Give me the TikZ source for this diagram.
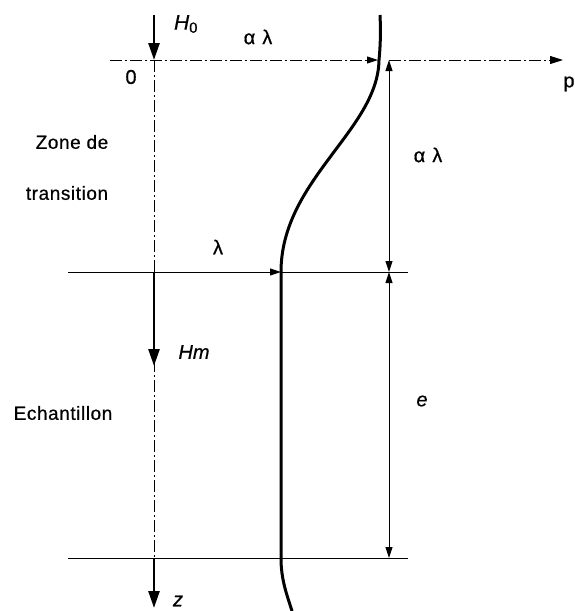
\documentclass[tikz,border=0pt]{standalone}
\usepackage{fontspec}
\setmainfont{Liberation Sans}
\usetikzlibrary{arrows.meta}
\begin{document}
\begin{tikzpicture}[x=1pt,y=-1pt,
  axisline/.style={line width=0.9pt, dash pattern=on 12pt off 3pt on 2pt off 3pt},
  thinline/.style={line width=1pt},
  dimtip/.style={-{Triangle[length=11pt,width=7pt]}},
  dimboth/.style={{Triangle[length=11pt,width=7pt]}-{Triangle[length=11pt,width=7pt]}},
  bigarrow/.style={line width=2.6pt, -{Triangle[length=17pt,width=11pt]}},
  curveline/.style={line width=3pt},
  lbl/.style={font=\fontsize{19}{21}\selectfont\addfontfeature{LetterSpace=3,FakeBold=0.6}, inner sep=0pt},
  sym/.style={font=\fontsize{20}{22}\selectfont\addfontfeature{FakeBold=0.6}, inner sep=0pt}
]
\useasboundingbox (0,0) rectangle (575,611);
% coordinates
\coordinate (H0top) at (154,15);
\coordinate (O) at (154,60);
\coordinate (pstart) at (110,60);
\coordinate (ptipA) at (378,60);
\coordinate (corner) at (389,60);
\coordinate (pend) at (563,60);
\coordinate (L1l) at (68,272);
\coordinate (L1r) at (408,272);
\coordinate (Z1) at (154,272);
\coordinate (Hmtip) at (154,366);
\coordinate (C1) at (281,272);
\coordinate (D1) at (389,272);
\coordinate (L2l) at (68,558);
\coordinate (L2r) at (408,558);
\coordinate (Z2) at (154,558);
\coordinate (ztip) at (154,608);
\coordinate (D2) at (389,558);
% axes
\draw[axisline, dimtip] (pstart) -- (ptipA);
\draw[axisline, -{Triangle[length=13pt,width=8pt]}] (corner) -- (pend);
\draw[axisline] (O) -- (Z2);
\draw[bigarrow] (H0top) -- (O);
\draw[bigarrow] (Z1) -- (Hmtip);
\draw[bigarrow] (Z2) -- (ztip);
% horizontal lines
\draw[thinline] (C1) -- (L1r);
\draw[thinline, dimtip] (L1l) -- (C1);
\draw[thinline] (L2l) -- (L2r);
% dimension lines
\draw[thinline, dimboth] (corner) -- (D1);
\draw[thinline, dimboth] (D1) -- (D2);
% profile curve
\draw[curveline] (380,15) .. controls (381,35) and (380,50) .. (379,60)
  .. controls (378,130) and (281,180) .. (281,272) -- (281,558)
  .. controls (281,580) and (287,595) .. (292,611);
% labels
\node[lbl] (zone) at (72,142) {Zone de};
\node[lbl] (trans) at (67,193) {transition};
\node[lbl] (ech) at (63,413) {Echantillon};
\node[sym] (zero) at (131,77) {0};
\node[sym, font=\fontsize{21}{23}\selectfont\addfontfeature{FakeBold=0.6}] (H0) at (186,24) {\textit{H}\textsubscript{0}};
\node[sym] (alamA) at (258,37) {α\hspace{7pt}λ};
\node[sym] (alamB) at (428,155) {α\hspace{7pt}λ};
\node[sym] (lam) at (218,247) {λ};
\node[sym] (Hm) at (194,352) {\textit{Hm}};
\node[sym] (e) at (422,401) {\textit{e}};
\node[sym] (p) at (569,84) {p};
\node[sym] (z) at (178,601) {\textit{z}};
\end{tikzpicture}
\end{document}
